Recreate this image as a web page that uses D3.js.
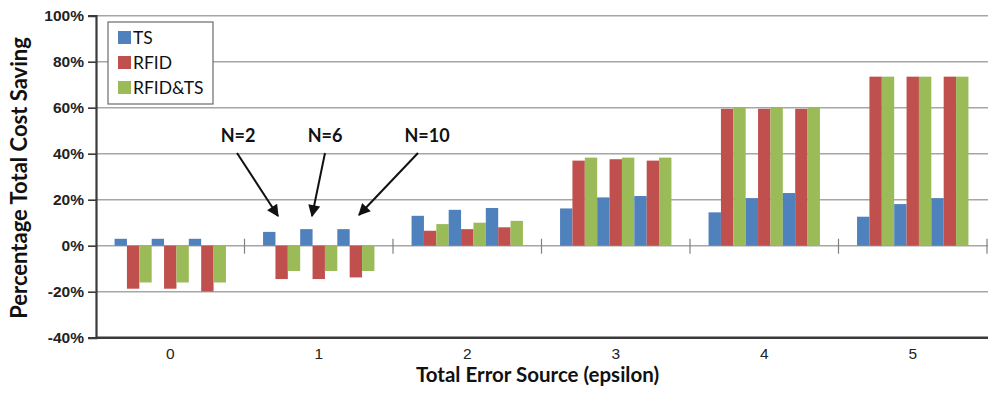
<!DOCTYPE html>
<html>
<head>
<meta charset="utf-8">
<script src="https://cdn.jsdelivr.net/npm/d3@7"></script>
<style>
  body { margin: 0; background: #fff; }
  svg { display: block; font-family: Lato, "Open Sans", sans-serif; }
</style>
</head>
<body>
<svg id="chart" width="989" height="396"></svg>
<script>
// values in percent, one entry per epsilon category
var categories = ['0', '1', '2', '3', '4', '5'];
var groups = ['N=2', 'N=6', 'N=10'];
var seriesNames = ['TS', 'RFID', 'RFID&TS'];
var seriesColors = ['#4f81bd', '#c0504d', '#9bbb59'];

// rows: N=2, N=6, N=10
var tsValues = [
    [3, 6, 13, 16.2, 14.5, 12.6],
    [3, 7.2, 15.6, 21, 20.7, 18.1],
    [3, 7.2, 16.4, 21.6, 22.9, 20.7]
];
var rfidValues = [
    [-18.7, -14.5, 6.5, 37, 59.5, 73.5],
    [-18.7, -14.5, 7.2, 37.6, 59.5, 73.5],
    [-19.9, -13.8, 8, 37, 59.5, 73.5]
];
var rfidTsValues = [
    [-16, -11, 9.4, 38.3, 60.3, 73.5],
    [-16, -11, 10, 38.3, 60.3, 73.5],
    [-16, -11, 10.8, 38.3, 60.3, 73.5]
];
var yTicks = [-40, -20, 0, 20, 40, 60, 80, 100];

var svg = d3.select('#chart');
var plotLeft = 96, plotRight = 987, plotTop = 15.7, plotBottom = 337.7;

var x0 = d3.scaleBand().domain(categories).range([plotLeft, plotRight]).padding(0);

var barKeys = [];
groups.forEach(function (g) {
    seriesNames.forEach(function (s) { barKeys.push(g + '|' + s); });
});
var x1 = d3.scaleBand().domain(barKeys).range([0, x0.bandwidth()])
    .paddingInner(0).paddingOuter(1.5);

var y = d3.scaleLinear().domain([-40, 100]).range([plotBottom, plotTop]);

var table = [tsValues, rfidValues, rfidTsValues];
var bars = [];
categories.forEach(function (c, ci) {
    groups.forEach(function (g, gi) {
        seriesNames.forEach(function (s, si) {
            bars.push({cat: c, key: g + '|' + s, series: si, value: table[si][gi][ci]});
        });
    });
});

// gridlines
svg.append('g')
    .selectAll('line')
    .data(yTicks.filter(function (t) { return t > -40; }))
    .join('line')
    .attr('x1', plotLeft).attr('x2', plotRight + 1)
    .attr('y1', function (d) { return y(d); })
    .attr('y2', function (d) { return y(d); })
    .attr('stroke', '#a6a6a6')
    .attr('stroke-width', 1.6);

// bars
svg.append('g')
    .selectAll('rect')
    .data(bars)
    .join('rect')
    .attr('x', function (d) { return x0(d.cat) + x1(d.key); })
    .attr('width', x1.bandwidth())
    .attr('y', function (d) { return y(Math.max(0, d.value)); })
    .attr('height', function (d) { return Math.abs(y(d.value) - y(0)); })
    .attr('fill', function (d) { return seriesColors[d.series]; });

// category tick marks on the zero line
svg.append('g')
    .selectAll('line')
    .data(categories.slice(1).concat(['end']))
    .join('line')
    .attr('x1', function (d) { return d === 'end' ? plotRight : x0(d); })
    .attr('x2', function (d) { return d === 'end' ? plotRight : x0(d); })
    .attr('y1', y(0) - 7).attr('y2', y(0) + 8)
    .attr('stroke', '#808080')
    .attr('stroke-width', 1.2);

// y axis
var yAxis = d3.axisLeft(y)
    .tickValues(yTicks)
    .tickSize(8)
    .tickFormat(function (d) { return d + '%'; });

var gY = svg.append('g')
    .attr('transform', 'translate(' + plotLeft + ',0)')
    .call(yAxis);
gY.select('.domain').attr('stroke', '#3a3a3a').attr('stroke-width', 2.2);
gY.selectAll('.tick line').attr('stroke', '#3a3a3a').attr('stroke-width', 1.6);
gY.selectAll('.tick text')
    .attr('x', -12)
    .attr('fill', '#222')
    .style('font-size', '15.5px')
    .style('font-weight', 'bold');

// x axis (labels at the bottom)
var xAxis = d3.axisBottom(x0).tickSize(0).tickPadding(10);
var gX = svg.append('g')
    .attr('transform', 'translate(0,' + plotBottom + ')')
    .call(xAxis);
gX.select('.domain').attr('d', 'M' + plotLeft + ',0H' + (plotRight + 1))
    .attr('stroke', '#3a3a3a').attr('stroke-width', 2.4);
gX.selectAll('.tick text')
    .attr('fill', '#222')
    .style('font-size', '15.5px');

// axis titles
svg.append('text')
    .attr('x', (plotLeft + plotRight) / 2 - 4)
    .attr('y', 382)
    .attr('text-anchor', 'middle')
    .attr('fill', '#111')
    .style('font-size', '20.5px')
    .style('font-weight', 'bold')
    .text('Total Error Source (epsilon)');

svg.append('text')
    .attr('transform', 'translate(27,178) rotate(-90)')
    .attr('text-anchor', 'middle')
    .attr('fill', '#111')
    .style('font-size', '22px')
    .style('font-weight', 'bold')
    .text('Percentage Total Cost Saving');

// legend
var legend = svg.append('g').attr('transform', 'translate(108,22)');
legend.append('rect')
    .attr('width', 105).attr('height', 82)
    .attr('fill', '#fff')
    .attr('stroke', '#6b6b6b')
    .attr('stroke-width', 1.2);

var item = legend.selectAll('g.item')
    .data(seriesNames)
    .join('g')
    .attr('class', 'item')
    .attr('transform', function (d, i) { return 'translate(10,' + (9 + i * 25) + ')'; });
item.append('rect')
    .attr('width', 13).attr('height', 13)
    .attr('fill', function (d, i) { return seriesColors[i]; });
item.append('text')
    .attr('x', 15).attr('y', 12.5)
    .attr('fill', '#111')
    .style('font-size', '17.5px')
    .text(function (d) { return d; });

// N annotations with arrows
var annotations = [
    {label: 'N=2', lx: 238, ly: 142, from: [237, 153], to: [278, 216]},
    {label: 'N=6', lx: 325, ly: 142, from: [325, 153], to: [312, 216]},
    {label: 'N=10', lx: 427, ly: 142, from: [418, 153], to: [359, 215]}
];

svg.append('defs').append('marker')
    .attr('id', 'arrow')
    .attr('viewBox', '0 0 10 10')
    .attr('refX', 9).attr('refY', 5)
    .attr('markerWidth', 6.5).attr('markerHeight', 6)
    .attr('markerUnits', 'strokeWidth')
    .attr('orient', 'auto')
    .append('path')
    .attr('d', 'M0,0L10,5L0,10z')
    .attr('fill', '#111');

var ann = svg.append('g');
ann.selectAll('line')
    .data(annotations)
    .join('line')
    .attr('x1', function (d) { return d.from[0]; })
    .attr('y1', function (d) { return d.from[1]; })
    .attr('x2', function (d) { return d.to[0]; })
    .attr('y2', function (d) { return d.to[1]; })
    .attr('stroke', '#111')
    .attr('stroke-width', 2)
    .attr('marker-end', 'url(#arrow)');
ann.selectAll('text')
    .data(annotations)
    .join('text')
    .attr('x', function (d) { return d.lx; })
    .attr('y', function (d) { return d.ly; })
    .attr('text-anchor', 'middle')
    .attr('fill', '#111')
    .style('font-size', '18px')
    .style('font-weight', 'bold')
    .text(function (d) { return d.label; });
</script>
</body>
</html>
